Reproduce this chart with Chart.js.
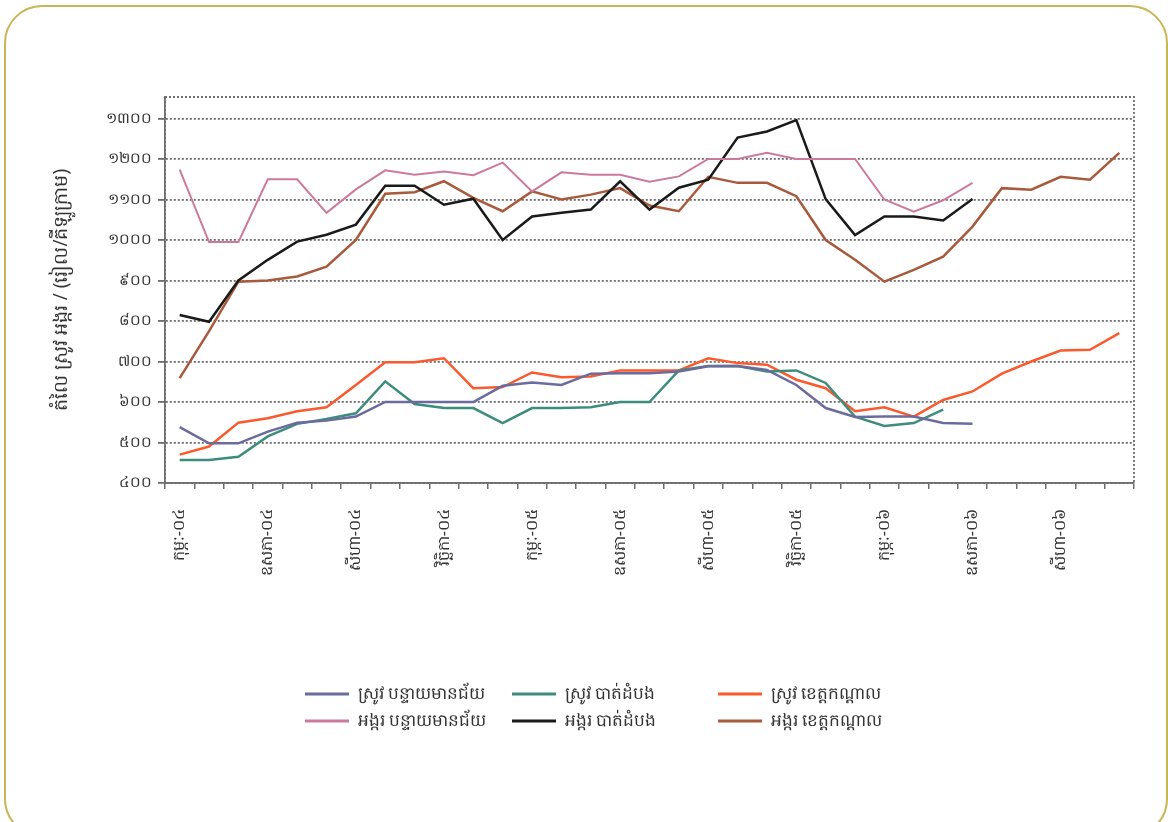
<!DOCTYPE html>
<html>
<head>
<meta charset="utf-8">
<script src="https://cdn.jsdelivr.net/npm/chart.js@4/dist/chart.umd.min.js"></script>
<style>
  html, body { margin: 0; padding: 0; background: #ffffff; }
  #wrap { position: relative; width: 1168px; height: 822px; overflow: hidden; }
  #frame { position: absolute; left: 4px; top: 5px; width: 1164px; height: 832px;
           border: 2px solid #c8b656; border-radius: 38px; box-sizing: border-box; }
  #c { position: absolute; left: 0; top: 0; }
</style>
</head>
<body>
<div id="wrap">
  <div id="frame"></div>
  <canvas id="c" width="1168" height="822"></canvas>
</div>
<script>
// Monthly categories, Feb 2004 to Oct 2006
const categories = [
  'កុម្ភៈ-០៤', 'មីនា-០៤', 'មេសា-០៤', 'ឧសភា-០៤', 'មិថុនា-០៤', 'កក្កដា-០៤', 'សីហា-០៤', 'កញ្ញា-០៤', 'តុលា-០៤', 'វិច្ឆិកា-០៤', 'ធ្នូ-០៤',
  'មករា-០៥', 'កុម្ភៈ-០៥', 'មីនា-០៥', 'មេសា-០៥', 'ឧសភា-០៥', 'មិថុនា-០៥', 'កក្កដា-០៥', 'សីហា-០៥', 'កញ្ញា-០៥', 'តុលា-០៥', 'វិច្ឆិកា-០៥', 'ធ្នូ-០៥',
  'មករា-០៦', 'កុម្ភៈ-០៦', 'មីនា-០៦', 'មេសា-០៦', 'ឧសភា-០៦', 'មិថុនា-០៦', 'កក្កដា-០៦', 'សីហា-០៦', 'កញ្ញា-០៦', 'តុលា-០៦'
];

// Paddy prices (riel / kg)
const paddyBanteayMeanchey = [538, 498, 498, 527, 549, 554, 564, 600, 600, 600, 600, 640, 648, 642, 670, 671, 671, 675, 688, 689, 679, 642, 585, 563, 564, 564, 548, 546, null, null, null, null, null];
const paddyBattambang = [457, 457, 465, 515, 546, 558, 572, 651, 595, 585, 585, 548, 585, 585, 587, 600, 600, 678, 689, 689, 675, 678, 647, 564, 541, 548, 581, null, null, null, null, null, null];
const paddyKandal = [470, 490, 549, 560, 577, 587, 642, 698, 698, 708, 634, 637, 673, 661, 663, 678, 678, 678, 708, 696, 692, 655, 634, 577, 587, 564, 605, 626, 670, 700, 727, 729, 770];

// Milled rice prices (riel / kg)
const riceBanteayMeanchey = [1174, 995, 995, 1150, 1150, 1067, 1125, 1172, 1161, 1169, 1160, 1191, 1120, 1167, 1161, 1161, 1144, 1157, 1200, 1200, 1215, 1200, 1200, 1200, 1100, 1070, 1098, 1141, null, null, null, null, null];
const riceBattambang = [815, 798, 900, 951, 996, 1013, 1038, 1134, 1134, 1087, 1102, 1000, 1058, 1067, 1075, 1145, 1075, 1129, 1149, 1253, 1268, 1296, 1101, 1012, 1058, 1058, 1048, 1101, null, null, null, null, null];
const riceKandal = [659, 775, 897, 900, 910, 934, 1000, 1114, 1118, 1145, 1104, 1071, 1120, 1100, 1112, 1128, 1085, 1071, 1156, 1141, 1141, 1108, 1000, 951, 897, 926, 959, 1033, 1128, 1124, 1156, 1149, 1215];

const seriesNames = [
  'ស្រូវ បន្ទាយមានជ័យ', 'ស្រូវ បាត់ដំបង', 'ស្រូវ ខេត្តកណ្ដាល',
  'អង្ករ បន្ទាយមានជ័យ', 'អង្ករ បាត់ដំបង', 'អង្ករ ខេត្តកណ្ដាល'
];

// Value axis ticks and their Khmer-numeral labels
const yTickValues = [400, 500, 600, 700, 800, 900, 1000, 1100, 1200, 1300];
const yTickLabels = ['៤០០', '៥០០', '៦០០', '៧០០', '៨០០', '៩០០', '១០០០', '១១០០', '១២០០', '១៣០០'];
const yTitle = 'តំលៃ ស្រូវ អង្ករ / (រៀល/គីឡូក្រាម)';

const FONT = "'Noto Sans', 'DejaVu Sans', sans-serif";
const GRID = '#6e6e6e';

function line(label, data, color, width) {
  return { label, data, borderColor: color, backgroundColor: color, borderWidth: width,
           pointRadius: 0, pointHoverRadius: 0, tension: 0, spanGaps: false, fill: false };
}

// Dotted frame around the plotting area
const plotFrame = {
  id: 'plotFrame',
  afterDraw(chart) {
    const { ctx, chartArea: a } = chart;
    ctx.save();
    ctx.strokeStyle = GRID;
    ctx.lineWidth = 1.8;
    ctx.setLineDash([2, 2]);
    ctx.strokeRect(a.left, a.top, a.right - a.left, a.bottom - a.top);
    ctx.restore();
  }
};

// Three-column legend below the axis
const gridLegend = {
  id: 'gridLegend',
  afterDraw(chart) {
    const { ctx } = chart;
    const colX = [305, 512, 718];
    const rowY = [694, 721];
    ctx.save();
    ctx.font = '17px ' + FONT;
    ctx.textBaseline = 'middle';
    ctx.textAlign = 'left';
    chart.data.datasets.forEach((ds, i) => {
      const x = colX[i % 3], y = rowY[Math.floor(i / 3)];
      ctx.strokeStyle = ds.borderColor;
      ctx.lineWidth = 3;
      ctx.beginPath();
      ctx.moveTo(x, y);
      ctx.lineTo(x + 44, y);
      ctx.stroke();
      ctx.fillStyle = '#333333';
      ctx.fillText(ds.label, x + 53, y);
    });
    ctx.restore();
  }
};

new Chart(document.getElementById('c'), {
  type: 'line',
  data: {
    labels: categories,
    datasets: [
      line(seriesNames[0], paddyBanteayMeanchey, '#6b6b9e', 2.5),
      line(seriesNames[1], paddyBattambang, '#3d8c7c', 2.5),
      line(seriesNames[2], paddyKandal, '#fa5a2d', 2.5),
      line(seriesNames[3], riceBanteayMeanchey, '#cc7a9c', 2),
      line(seriesNames[4], riceBattambang, '#1a1a1a', 2.5),
      line(seriesNames[5], riceKandal, '#a85a3c', 2.5)
    ]
  },
  options: {
    responsive: false,
    animation: false,
    layout: { padding: { top: 97, right: 34, left: 48, bottom: 0 } },
    plugins: { legend: { display: false }, tooltip: { enabled: false } },
    scales: {
      x: {
        type: 'category',
        offset: true,
        afterFit(scale) { scale.height = 339; },
        grid: { offset: true, drawOnChartArea: false, drawTicks: true, tickLength: 6, color: GRID, lineWidth: 1.5 },
        border: { display: true, color: GRID, width: 1.8 },
        ticks: {
          autoSkip: false, maxRotation: 90, minRotation: 90, padding: 20,
          color: '#333333', font: { family: FONT, size: 16 },
          callback(value, index) { return index % 3 === 0 ? categories[index] : ''; }
        }
      },
      y: {
        min: 400,
        max: 1353,
        afterFit(scale) { scale.width = 117; },
        afterBuildTicks(scale) { scale.ticks = yTickValues.map(v => ({ value: v })); },
        grid: { color: GRID, lineWidth: 1.8, tickLength: 7, drawTicks: true },
        border: { display: true, color: GRID, width: 1.8, dash: [2, 2] },
        ticks: {
          padding: 6, color: '#333333', font: { family: FONT, size: 15 },
          callback(value) { const k = yTickValues.indexOf(value); return k >= 0 ? yTickLabels[k] : ''; }
        },
        title: { display: true, text: yTitle, color: '#333333', font: { family: FONT, size: 19 }, padding: 2 }
      }
    }
  },
  plugins: [plotFrame, gridLegend]
});
</script>
</body>
</html>
